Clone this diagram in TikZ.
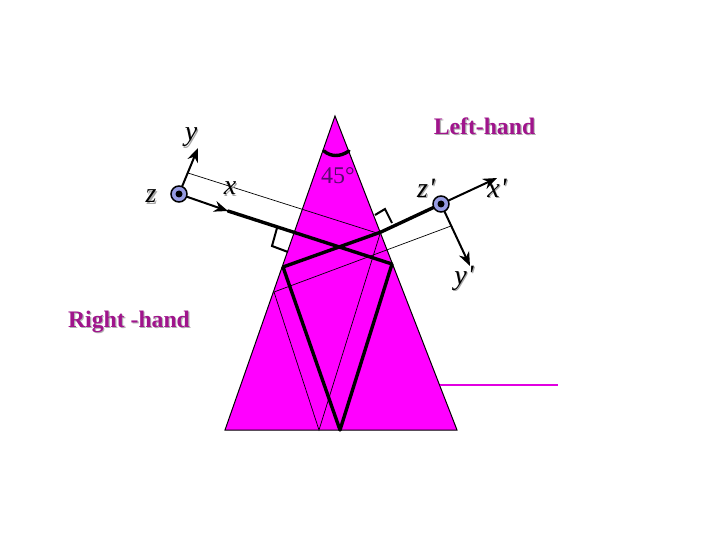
\documentclass[tikz,border=0pt]{standalone}
\usepackage{fontspec}
\setmainfont{Liberation Serif}
\usetikzlibrary{arrows.meta}
\definecolor{prism}{RGB}{255,0,255}
\definecolor{exitline}{RGB}{225,0,225}
\definecolor{labelpurple}{RGB}{160,20,140}
\definecolor{dotblue}{RGB}{150,155,225}
\definecolor{dimtext}{RGB}{90,10,110}
\newcommand{\shadowed}[2]{\leavevmode\rlap{\kern1.2pt\raisebox{-1.2pt}{\textcolor{#1}{#2}}}#2}
\tikzset{
  thin ray/.style={draw=black,line width=0.7pt},
  thick ray/.style={draw=black,line width=3.4pt,line cap=round,line join=round},
  axis/.style={draw=black,line width=2pt,-{Stealth[length=14pt,width=11pt]}},
  mark box/.style={draw=black,line width=2pt,line join=miter},
  axis label/.style={font=\fontsize{28}{28}\selectfont\itshape,inner sep=0pt,text=black},
  hand label/.style={font=\fontsize{23.7}{26}\selectfont\bfseries,inner sep=0pt,text=labelpurple},
  hub/.style={circle,draw=black,line width=1.5pt,fill=dotblue,minimum size=16pt,inner sep=0pt},
  hub core/.style={circle,fill=black,minimum size=7pt,inner sep=0pt}
}
\begin{document}
\begin{tikzpicture}[x=1pt,y=-1pt]
\useasboundingbox (0,0) rectangle (720,540);
\fill[white] (0,0) rectangle (720,540);
% prism
\coordinate (apex) at (335,116);
\coordinate (bl) at (225,430);
\coordinate (br) at (457,430);
\filldraw[fill=prism,draw=black,line width=1pt,line join=miter] (apex) -- (bl) -- (br) -- cycle;
% outgoing magenta line
\coordinate (exitA) at (440,385);
\coordinate (exitB) at (558,385);
\draw[draw=exitline,line width=1.1pt] (exitA) -- (exitB);
% key points
\coordinate (o) at (179,194);
\coordinate (op) at (441,204);
\coordinate (ytip) at (198,148);
\coordinate (xtip) at (228,211);
\coordinate (xptip) at (497,178);
\coordinate (yptip) at (470,266);
\coordinate (r1) at (392,264);
\coordinate (bot) at (340,430);
\coordinate (r2) at (283,267);
\coordinate (r3) at (381,232);
% thin ray
\coordinate (t1) at (188,173);
\coordinate (t2) at (380,234);
\coordinate (t3) at (319,430);
\coordinate (t4) at (274,292);
\coordinate (t5) at (451,226);
\draw[thin ray] (t1) -- (t2) -- (t3) -- (t4) -- (t5);
% thick ray
\draw[thick ray] (xtip) -- (r1) -- (bot) -- (r2) -- (r3) -- (op);
% right-angle marks
\coordinate (m1) at (277,228);
\coordinate (m2) at (272,246);
\coordinate (m3) at (288,252);
\coordinate (m4) at (375,215);
\coordinate (m5) at (385,209);
\coordinate (m6) at (392,223);
\draw[mark box] (m1) -- (m2) -- (m3);
\draw[mark box] (m4) -- (m5) -- (m6);
% angle arc
\coordinate (a1) at (324,151);
\coordinate (a2) at (349,151);
\draw[thick ray] (a1) .. controls (331,157) and (340,157) .. (a2);
% axes
\draw[axis] (o) -- (ytip);
\draw[axis] (o) -- (xtip);
\draw[axis] (op) -- (xptip);
\draw[axis] (op) -- (yptip);
% hubs
\node[hub] (h1) at (o) {};
\node[hub core] (h1c) at (o) {};
\node[hub] (h2) at (op) {};
\node[hub core] (h2c) at (op) {};
% labels
\node[axis label] (ly) at (191,138) {\shadowed{black!35}{y}};
\node[axis label] (lz) at (151,197) {\shadowed{black!35}{z}};
\node[axis label] (lx) at (230,189) {\shadowed{black!35}{x}};
\node[axis label] (lzp) at (426,189) {\shadowed{black!35}{z\kern1pt\textquotesingle}};
\node[axis label] (lxp) at (497,189) {\shadowed{black!35}{x\kern1pt\textquotesingle}};
\node[axis label] (lyp) at (464,279) {\shadowed{black!35}{y\kern1pt\textquotesingle}};
\node[font=\fontsize{24}{24}\selectfont,inner sep=0pt,text=dimtext] (ang) at (338,176) {45°};
\node[hand label] (lh) at (484.5,127) {\shadowed{black!30}{Left-hand}};
\node[hand label] (rh) at (129,322) {\shadowed{black!30}{Right -hand}};
\end{tikzpicture}
\end{document}
